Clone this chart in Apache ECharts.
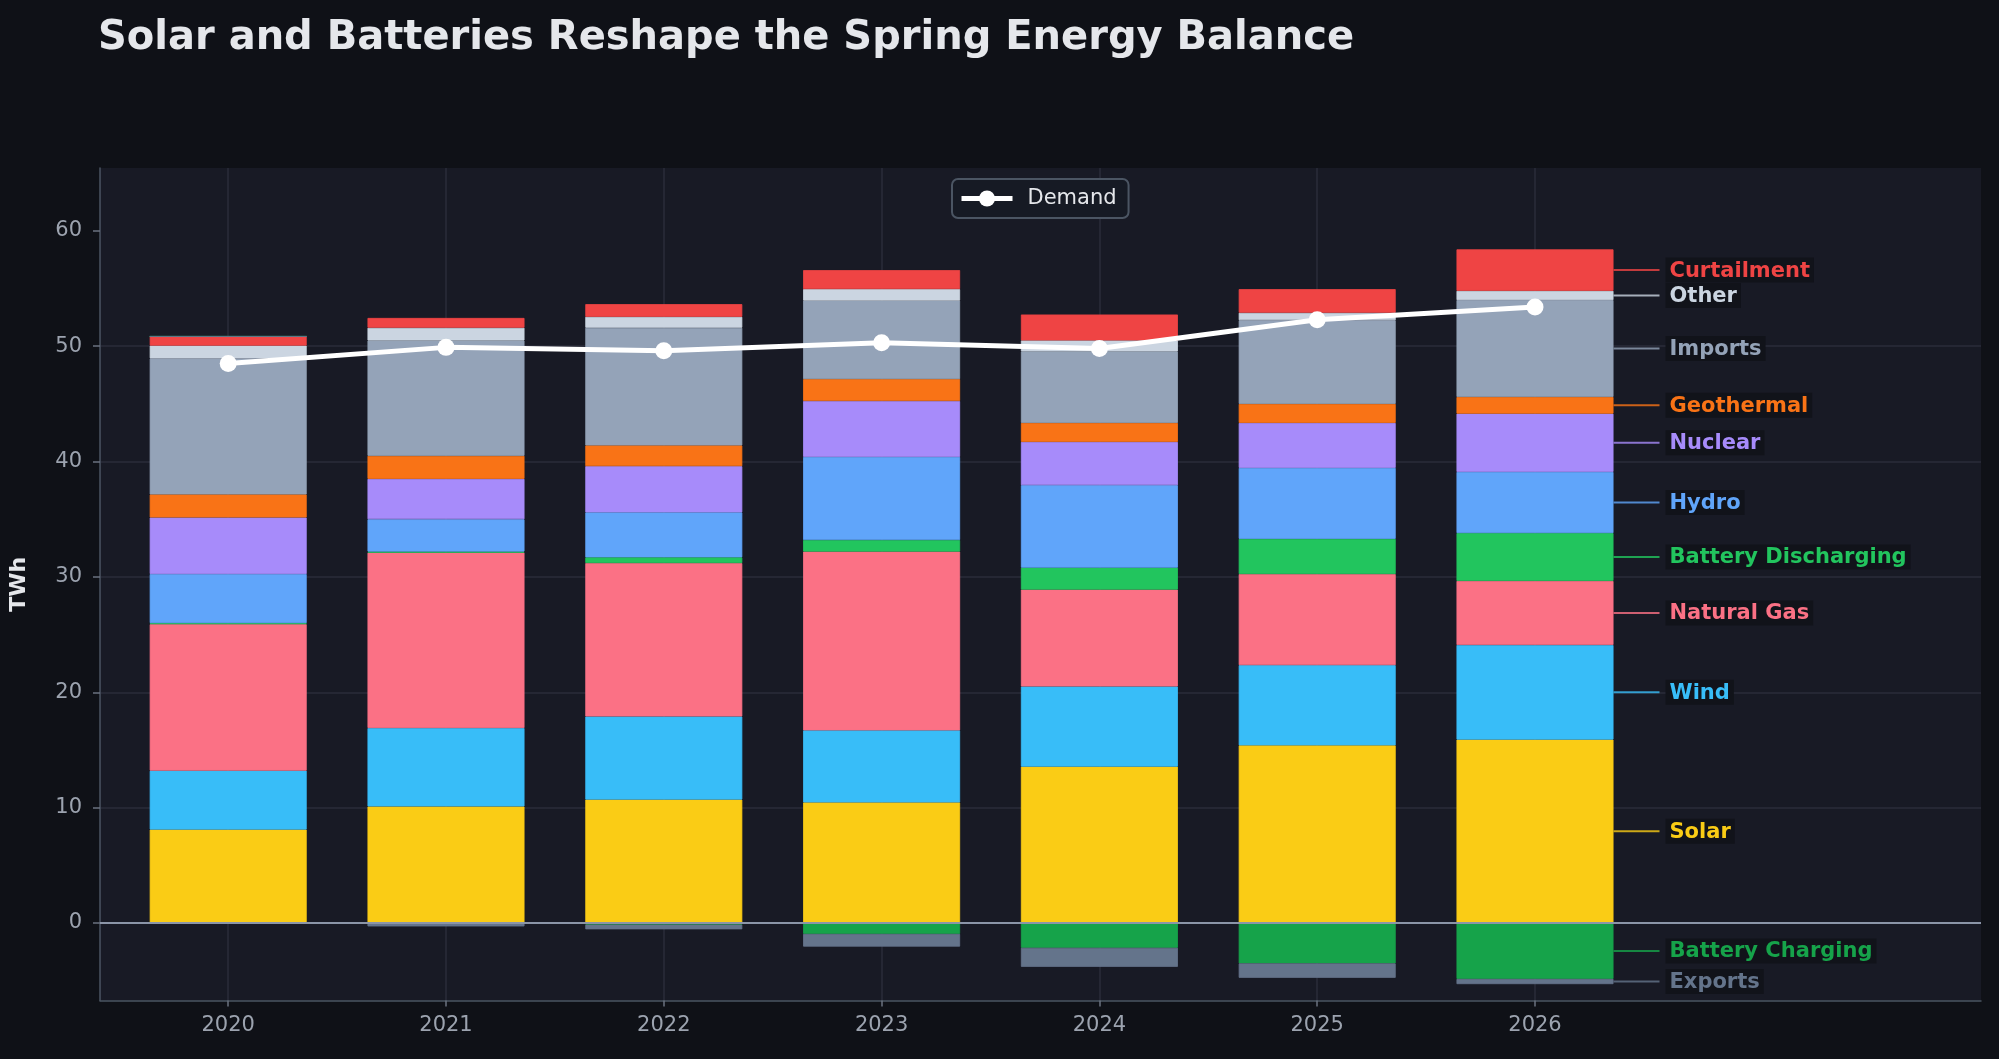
<!DOCTYPE html>
<html>
<head>
    <meta charset="UTF-8">
    <script type="text/javascript" src="https://cdn.jsdelivr.net/npm/echarts@6/dist/echarts.min.js"></script>
    <style>
        html, body { margin: 0; padding: 0; background: #0f1117; }
        #main { width: 1999px; height: 1059px; }
    </style>
</head>
<body>
<div id="main"></div>
<script>
    // data (TWh)
    var years = ['2020', '2021', '2022', '2023', '2024', '2025', '2026'];
    var solar = [8.1, 10.1, 10.7, 10.45, 13.55, 15.4, 15.9];
    var wind = [5.1, 6.8, 7.2, 6.25, 6.95, 6.95, 8.2];
    var naturalGas = [12.7, 15.2, 13.3, 15.5, 8.4, 7.9, 5.55];
    var batteryDischarging = [0.1, 0.1, 0.5, 1.0, 1.9, 3.05, 4.15];
    var hydro = [4.25, 2.8, 3.9, 7.2, 7.15, 6.15, 5.3];
    var nuclear = [4.9, 3.5, 4.0, 4.85, 3.75, 3.9, 5.05];
    var geothermal = [2.0, 2.0, 1.8, 1.9, 1.65, 1.65, 1.45];
    var imports = [11.8, 10.0, 10.2, 6.8, 6.2, 7.25, 8.4];
    var other = [1.1, 1.1, 0.95, 1.0, 0.95, 0.65, 0.8];
    var curtailment = [0.8, 0.85, 1.1, 1.65, 2.25, 2.05, 3.6];
    var batteryCharging = [0, -0.05, -0.15, -0.95, -2.15, -3.5, -4.85];
    var exports = [0, -0.25, -0.4, -1.1, -1.65, -1.25, -0.45];
    var demand = [48.5, 49.9, 49.6, 50.3, 49.8, 52.3, 53.4];
    var yTicks = [0, 10, 20, 30, 40, 50, 60];

    var FONT = 'DejaVu Sans';
    var Y_MIN = -6.72, Y_MAX = 65.45;

    var layers = [
        {name: 'Solar', data: solar, color: '#facc15'},
        {name: 'Wind', data: wind, color: '#38bdf8'},
        {name: 'Natural Gas', data: naturalGas, color: '#fb7185'},
        {name: 'Battery Discharging', data: batteryDischarging, color: '#22c55e'},
        {name: 'Hydro', data: hydro, color: '#60a5fa'},
        {name: 'Nuclear', data: nuclear, color: '#a78bfa'},
        {name: 'Geothermal', data: geothermal, color: '#f97316'},
        {name: 'Imports', data: imports, color: '#94a3b8'},
        {name: 'Other', data: other, color: '#cbd5e1'},
        {name: 'Curtailment', data: curtailment, color: '#ef4444'},
        {name: 'Battery Charging', data: batteryCharging, color: '#16a34a'},
        {name: 'Exports', data: exports, color: '#64748b'}
    ];
    var last = years.length - 1;

    var chart = echarts.init(document.getElementById('main'));

    // one stacked bar series per layer, name tag on the last bar
    function barSeries(layer) {
        return {
            name: layer.name,
            type: 'bar',
            stack: 'total',
            xAxisIndex: 1,
            yAxisIndex: 1,
            barWidth: 157,
            clip: false,
            z: 2,
            itemStyle: {color: layer.color, borderColor: layer.color, borderWidth: 0.8},
            emphasis: {disabled: true},
            data: layer.data.map(function (v, i) {
                if (i !== last) return v;
                return {
                    value: v,
                    label: {
                        show: true,
                        position: 'right',
                        distance: 0,
                        formatter: '{ln|}{gap|}{t|' + layer.name + '}',
                        rich: {
                            ln: {width: 46, height: 2, backgroundColor: echarts.color.modifyAlpha(layer.color, 0.8)},
                            gap: {width: 6, height: 2},
                            t: {
                                color: layer.color,
                                fontSize: 21,
                                fontWeight: 'bold',
                                fontFamily: FONT,
                                backgroundColor: '#11131a',
                                padding: [3, 4, 1, 4]
                            }
                        }
                    }
                };
            })
        };
    }

    var series = layers.map(barSeries);

    // zero line across the whole plot
    series.push({
        type: 'line',
        xAxisIndex: 0,
        yAxisIndex: 0,
        data: [],
        silent: true,
        z: 4,
        markLine: {
            silent: true,
            symbol: ['none', 'none'],
            label: {show: false},
            lineStyle: {color: '#8b95a8', width: 2, type: 'solid'},
            data: [{yAxis: 0}]
        }
    });

    series.push({
        name: 'Demand',
        type: 'line',
        xAxisIndex: 1,
        yAxisIndex: 1,
        data: demand,
        z: 6,
        symbol: 'circle',
        symbolSize: 17,
        itemStyle: {color: '#ffffff'},
        lineStyle: {color: '#ffffff', width: 5},
        emphasis: {disabled: true}
    });

    var option = {
        backgroundColor: '#0f1117',
        animation: false,
        title: {
            text: 'Solar and Batteries Reshape the Spring Energy Balance',
            left: 98,
            top: 19,
            padding: 0,
            textStyle: {color: '#e5e7eb', fontSize: 40, fontWeight: 'bold', fontFamily: FONT}
        },
        legend: {
            data: ['Demand'],
            left: 952,
            top: 179,
            padding: [9, 12, 9, 7],
            itemWidth: 51,
            itemHeight: 20,
            borderColor: '#4b5563',
            borderWidth: 2,
            borderRadius: 6,
            backgroundColor: '#161a24',
            lineStyle: {width: 5},
            textStyle: {color: '#e5e7eb', fontSize: 21, fontFamily: FONT, padding: [0, 0, 0, 10]}
        },
        grid: [
            {left: 98, right: 18, top: 168, bottom: 58.5, show: true, backgroundColor: '#181a25', borderWidth: 0},
            {left: 228.2, right: 464, top: 168, bottom: 58.5}
        ],
        xAxis: [
            {
                gridIndex: 0, type: 'value', min: 0, max: 1,
                axisLine: {show: true, onZero: false, lineStyle: {color: '#4b5563', width: 1.5}},
                axisTick: {show: false},
                axisLabel: {show: false},
                splitLine: {show: false}
            },
            {
                gridIndex: 1, type: 'category', data: years, boundaryGap: false,
                axisLine: {show: false, onZero: false},
                axisTick: {show: true, length: 6, lineStyle: {color: '#6b7280', width: 1.5}},
                axisLabel: {color: '#9ca3af', fontSize: 21, fontFamily: FONT, margin: 15},
                splitLine: {show: true, lineStyle: {color: '#2a2d3a', width: 1.5}}
            }
        ],
        yAxis: [
            {
                gridIndex: 0, type: 'value', min: Y_MIN, max: Y_MAX,
                name: 'TWh',
                nameLocation: 'middle',
                nameGap: 70,
                nameTextStyle: {color: '#e5e7eb', fontSize: 22, fontWeight: 'bold', fontFamily: FONT},
                axisLine: {show: true, onZero: false, lineStyle: {color: '#4b5563', width: 1.5}},
                axisTick: {show: true, length: 7, lineStyle: {color: '#6b7280', width: 1.5}, customValues: yTicks},
                axisLabel: {color: '#9ca3af', fontSize: 21, fontFamily: FONT, margin: 18, customValues: yTicks},
                splitLine: {show: true, showMinLine: false, showMaxLine: false, lineStyle: {color: '#2a2d3a', width: 1.5}}
            },
            {gridIndex: 1, type: 'value', min: Y_MIN, max: Y_MAX, show: false}
        ],
        series: series
    };

    chart.setOption(option);
</script>
</body>
</html>
